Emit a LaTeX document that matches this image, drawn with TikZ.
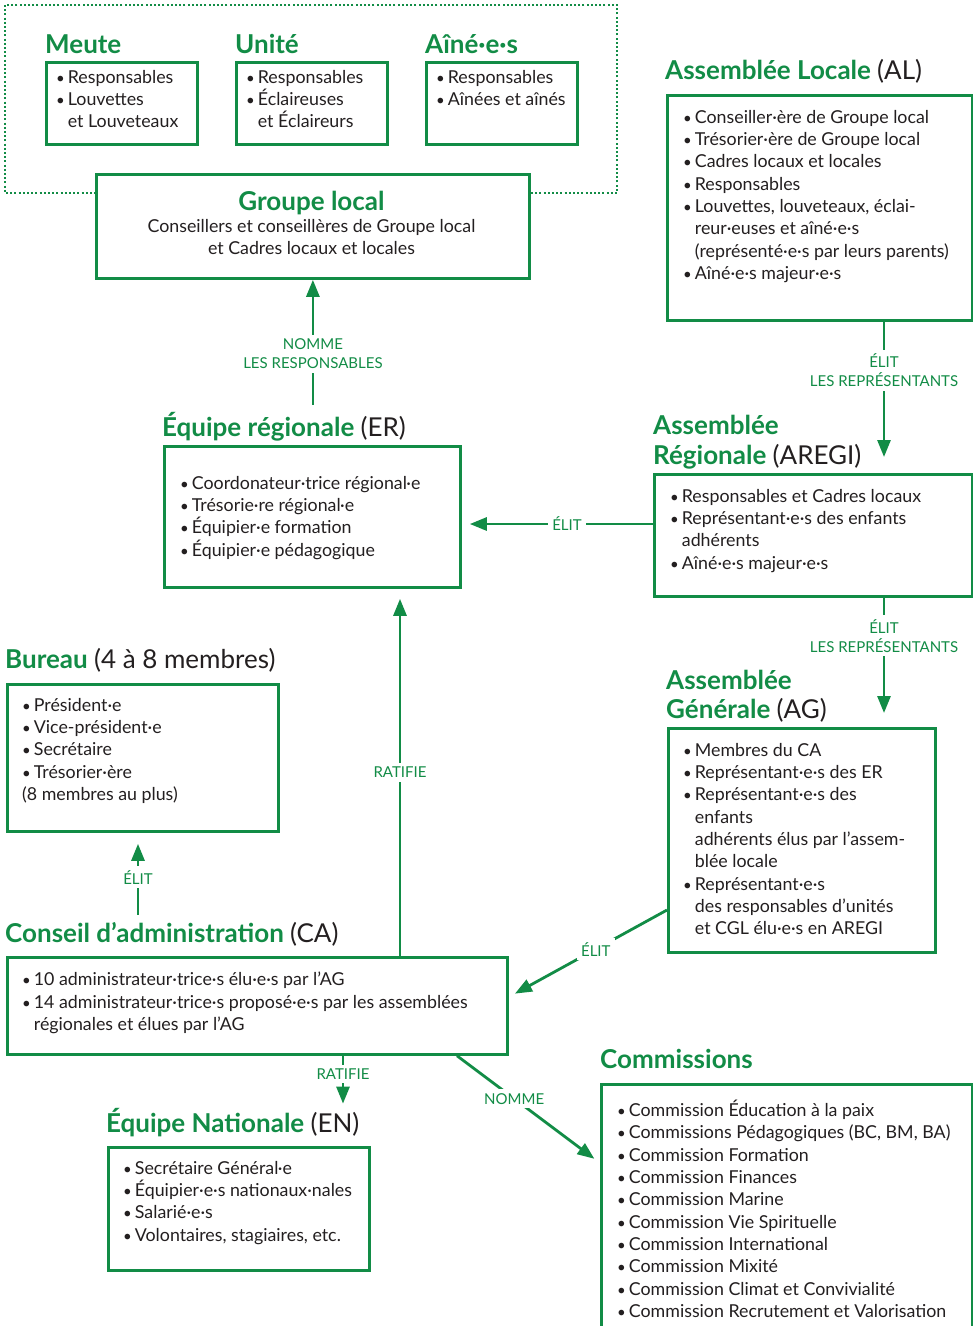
\documentclass[tikz,border=0pt]{standalone}
\usepackage{fontspec}
\setmainfont{Lato}
\usepackage{tikz}
\usetikzlibrary{arrows.meta}
\definecolor{vert}{RGB}{18,140,70}
\definecolor{encre}{RGB}{35,31,32}
\newcommand{\puce}{{\fontsize{15}{0}\selectfont\textbullet}\hspace{3pt}}
\newcommand{\retrait}{\hphantom{\puce}}
\newcommand{\sigle}[1]{\textcolor{encre}{\mdseries #1}}

\begin{document}
\begin{tikzpicture}[x=1pt, y=-1pt,
    boite/.style={draw=vert, line width=2.8pt, fill=white, anchor=north west, inner sep=0pt},
    titre/.style={anchor=base west, inner sep=0pt, text=vert, font=\fontsize{26}{30}\selectfont\bfseries},
    liste/.style={anchor=north west, yshift=13.5pt, inner sep=0pt, align=left, text=encre,
        font=\fontsize{17.8}{22.3}\selectfont, execute at begin node=\rule{0pt}{18pt}},
    lien/.style={draw=vert, line width=2.8pt, -{Triangle[width=13pt,length=17pt]}},
    etiq/.style={fill=white, text=vert, align=center, inner sep=4pt, font=\fontsize{15}{19}\selectfont}]
    \useasboundingbox (0,0) rectangle (973,1326);

    \draw[vert, line width=2pt, dash pattern=on 2pt off 2.2pt] (5,5) rectangle (617,193);

    \node[titre] (meutetitre) at (45,53) {Meute};
    \node[boite, minimum width=151pt, minimum height=82pt] (meute) at (45,61) {};
    \node[liste] at (56,83.5) {\puce Responsables\\\puce Louvettes\\\retrait et Louveteaux};

    \node[titre] (unitetitre) at (235,53) {Unité};
    \node[boite, minimum width=151pt, minimum height=82pt] (unite) at (235,61) {};
    \node[liste] at (246,83.5) {\puce Responsables\\\puce Éclaireuses\\\retrait et Éclaireurs};

    \node[titre] (ainestitre) at (425,53) {Aîné·e·s};
    \node[boite, minimum width=151pt, minimum height=82pt] (aines) at (425,61) {};
    \node[liste] at (436,83.5) {\puce Responsables\\\puce Aînées et aînés};

    \node[boite, minimum width=433pt, minimum height=104pt] (gl) at (95,173) {};
    \node[titre, anchor=base] (gltitre) at (311.5,210) {Groupe local};
    \node[liste, anchor=north, align=center] at (311.5,232.5) {Conseillers et conseillères de Groupe local\\et Cadres locaux et locales};

    \node[titre] (altitre) at (665,79) {Assemblée Locale \sigle{(AL)}};
    \node[boite, minimum width=305pt, minimum height=225pt] (al) at (666,94) {};
    \node[liste] at (683,123.5) {\puce Conseiller·ère de Groupe local\\\puce Trésorier·ère de Groupe local\\\puce Cadres locaux et locales\\\puce Responsables\\\puce Louvettes, louveteaux, éclai-\\\retrait reur·euses et aîné·e·s\\\retrait (représenté·e·s par leurs parents)\\\puce Aîné·e·s majeur·e·s};

    \node[titre] (ertitre) at (162,436) {Équipe régionale \sigle{(ER)}};
    \node[boite, minimum width=296pt, minimum height=141pt] (er) at (163,445) {};
    \node[liste] at (180,489.5) {\puce Coordonateur·trice régional·e\\\puce Trésorie·re régional·e\\\puce Équipier·e formation\\\puce Équipier·e pédagogique};

    \node[titre] (aregititre) at (653,434) {Assemblée};
    \node[titre] (aregititreb) at (653,464) {Régionale \sigle{(AREGI)}};
    \node[boite, minimum width=318pt, minimum height=122pt] (aregi) at (653,473) {};
    \node[liste] at (670,502.5) {\puce Responsables et Cadres locaux\\\puce Représentant·e·s des enfants\\\retrait adhérents\\\puce Aîné·e·s majeur·e·s};

    \node[titre] (agtitre) at (666,689) {Assemblée};
    \node[titre] (agtitreb) at (666,718) {Générale \sigle{(AG)}};
    \node[boite, minimum width=267pt, minimum height=224pt] (ag) at (667,727) {};
    \node[liste] at (683,756.5) {\puce Membres du CA\\\puce Représentant·e·s des ER\\\puce Représentant·e·s des\\\retrait enfants\\\retrait adhérents élus par l’assem-\\\retrait blée locale\\\puce Représentant·e·s\\\retrait des responsables d’unités\\\retrait et CGL élu·e·s en AREGI};

    \node[titre] (bureautitre) at (5,668) {Bureau \sigle{(4 à 8 membres)}};
    \node[boite, minimum width=271pt, minimum height=147pt] (bureau) at (6,683) {};
    \node[liste] at (22,711.5) {\puce Président·e\\\puce Vice-président·e\\\puce Secrétaire\\\puce Trésorier·ère\\(8 membres au plus)};

    \node[titre] (catitre) at (5,942) {Conseil d’administration \sigle{(CA)}};
    \node[boite, minimum width=500pt, minimum height=97pt] (ca) at (6,956) {};
    \node[liste] at (22,985.5) {\puce 10 administrateur·trice·s élu·e·s par l’AG\\\puce 14 administrateur·trice·s proposé·e·s par les assemblées\\\retrait régionales et élues par l’AG};

    \node[titre] (entitre) at (106,1132) {Équipe Nationale \sigle{(EN)}};
    \node[boite, minimum width=261pt, minimum height=123pt] (en) at (107,1146) {};
    \node[liste] at (123,1174.5) {\puce Secrétaire Général·e\\\puce Équipier·e·s nationaux·nales\\\puce Salarié·e·s\\\puce Volontaires, stagiaires, etc.};

    \node[titre] (commtitre) at (600,1068) {Commissions};
    \node[boite, minimum width=371pt, minimum height=270pt] (comm) at (600,1083) {};
    \node[liste] at (617,1113.5) {\puce Commission Éducation à la paix\\\puce Commissions Pédagogiques (BC, BM, BA)\\\puce Commission Formation\\\puce Commission Finances\\\puce Commission Marine\\\puce Commission Vie Spirituelle\\\puce Commission International\\\puce Commission Mixité\\\puce Commission Climat et Convivialité\\\puce Commission Recrutement et Valorisation};

    \draw[lien, shorten <=7pt] (ertitre.north -| gl.south) -- (gl.south) node[etiq, pos=0.44] {NOMME\\LES RESPONSABLES};
    \coordinate (alfleche) at (884,457);
    \draw[lien] (al.south -| alfleche) -- (alfleche) node[etiq, pos=0.36] {ÉLIT\\LES REPRÉSENTANTS};
    \draw[lien, shorten >=8pt] (aregi.west |- 0,524) -- (er.east |- 0,524) node[etiq, pos=0.45] {ÉLIT};
    \coordinate (agfleche) at (884,713);
    \draw[lien] (aregi.south -| agfleche) -- (agfleche) node[etiq, pos=0.33] {ÉLIT\\LES REPRÉSENTANTS};
    \draw[lien, shorten >=7pt] (ag.west |- 0,910) -- (ca.east |- 0,997) node[etiq, pos=0.45] {ÉLIT};
    \draw[lien, shorten >=10pt] (ca.north -| 400,0) -- (er.south -| 400,0) node[etiq, midway] {RATIFIE};
    \draw[lien, shorten <=7pt, shorten >=11pt] (catitre.north -| 138,0) -- (bureau.south -| 138,0) node[etiq, midway] {ÉLIT};
    \draw[lien, shorten >=4pt] (ca.south -| 343,0) -- (entitre.north -| 343,0) node[etiq, pos=0.35] {RATIFIE};
    \draw[lien, shorten >=7pt] (ca.south -| 457,0) -- (comm.west |- 0,1163) node[etiq, pos=0.4] {NOMME};
\end{tikzpicture}
\end{document}
